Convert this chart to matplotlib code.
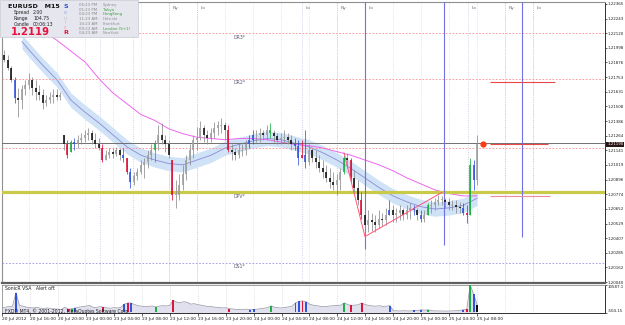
import matplotlib
matplotlib.use("Agg")
import matplotlib.pyplot as plt
import matplotlib.transforms as mtransforms
from matplotlib.patches import Rectangle
import numpy as np

# ---------------- data ----------------
highs = [1.2200, 1.2198, 1.2194, 1.2185, 1.2175, 1.2166, 1.2169, 1.2173, 1.2179, 1.2175,
         1.2173, 1.2169, 1.2165, 1.2160, 1.2163, 1.2165, 1.2165, 1.2163, 1.2127, 1.2123,
         1.2123, 1.2124, 1.2127, 1.2129, 1.2131, 1.2133, 1.2131, 1.2129, 1.2124, 1.2119,
         1.2114, 1.2116, 1.2116, 1.2117, 1.2116, 1.2116, 1.2108, 1.2099, 1.2096, 1.2099,
         1.2106, 1.2108, 1.2114, 1.2119, 1.2123, 1.2135, 1.2137, 1.2127, 1.2123, 1.2106,
         1.2089, 1.2094, 1.2102, 1.2110, 1.2119, 1.2127, 1.2134, 1.2139, 1.2135, 1.2131,
         1.2133, 1.2138, 1.2139, 1.2141, 1.2138, 1.2135, 1.2119, 1.2116, 1.2119, 1.2119,
         1.2123, 1.2127, 1.2131, 1.2131, 1.2133, 1.2131, 1.2135, 1.2137, 1.2131, 1.2129,
         1.2129, 1.2131, 1.2129, 1.2127, 1.2124, 1.2123, 1.2123, 1.2131, 1.2119, 1.2116,
         1.2114, 1.2110, 1.2106, 1.2102, 1.2099, 1.2096, 1.2094, 1.2099, 1.2110, 1.2112,
         1.2108, 1.2098, 1.2089, 1.2079, 1.2064, 1.2064, 1.2062, 1.2060, 1.2064, 1.2062,
         1.2066, 1.2073, 1.2068, 1.2066, 1.2068, 1.2066, 1.2068, 1.2070, 1.2068, 1.2066,
         1.2064, 1.2064, 1.2070, 1.2073, 1.2074, 1.2077, 1.2076, 1.2074, 1.2074, 1.2073,
         1.2073, 1.2071, 1.2070, 1.2068, 1.2108, 1.2106, 1.2127]
lows = [1.2191, 1.2188, 1.2181, 1.2171, 1.2154, 1.2142, 1.2149, 1.2160, 1.2165, 1.2160,
        1.2156, 1.2156, 1.2149, 1.2151, 1.2154, 1.2154, 1.2156, 1.2156, 1.2114, 1.2108,
        1.2113, 1.2114, 1.2116, 1.2119, 1.2121, 1.2123, 1.2119, 1.2116, 1.2114, 1.2104,
        1.2106, 1.2108, 1.2108, 1.2109, 1.2106, 1.2104, 1.2094, 1.2083, 1.2085, 1.2089,
        1.2094, 1.2091, 1.2099, 1.2106, 1.2104, 1.2114, 1.2119, 1.2113, 1.2108, 1.2073,
        1.2066, 1.2073, 1.2081, 1.2089, 1.2102, 1.2108, 1.2114, 1.2123, 1.2121, 1.2119,
        1.2121, 1.2124, 1.2127, 1.2129, 1.2123, 1.2113, 1.2106, 1.2106, 1.2108, 1.2109,
        1.2110, 1.2116, 1.2119, 1.2121, 1.2121, 1.2123, 1.2123, 1.2124, 1.2121, 1.2119,
        1.2119, 1.2120, 1.2119, 1.2114, 1.2114, 1.2102, 1.2108, 1.2099, 1.2102, 1.2104,
        1.2099, 1.2096, 1.2091, 1.2088, 1.2083, 1.2081, 1.2077, 1.2081, 1.2094, 1.2099,
        1.2088, 1.2079, 1.2068, 1.2057, 1.2042, 1.2046, 1.2047, 1.2046, 1.2049, 1.2051,
        1.2052, 1.2060, 1.2054, 1.2054, 1.2056, 1.2056, 1.2057, 1.2057, 1.2060, 1.2056,
        1.2054, 1.2054, 1.2060, 1.2062, 1.2064, 1.2068, 1.2068, 1.2066, 1.2064, 1.2064,
        1.2062, 1.2062, 1.2060, 1.2053, 1.2060, 1.2081, 1.2085]
closes = [1.2194, 1.2190, 1.2183, 1.2173, 1.2158, 1.2156, 1.2165, 1.2169, 1.2173, 1.2166,
          1.2163, 1.2160, 1.2154, 1.2156, 1.2159, 1.2160, 1.2159, 1.2160, 1.2119, 1.2110,
          1.2121, 1.2119, 1.2123, 1.2124, 1.2127, 1.2129, 1.2123, 1.2119, 1.2116, 1.2106,
          1.2110, 1.2113, 1.2111, 1.2114, 1.2110, 1.2108, 1.2096, 1.2088, 1.2093, 1.2096,
          1.2102, 1.2104, 1.2110, 1.2114, 1.2119, 1.2127, 1.2123, 1.2119, 1.2110, 1.2077,
          1.2077, 1.2085, 1.2094, 1.2106, 1.2114, 1.2123, 1.2124, 1.2133, 1.2127, 1.2124,
          1.2129, 1.2133, 1.2135, 1.2135, 1.2131, 1.2114, 1.2113, 1.2110, 1.2114, 1.2114,
          1.2119, 1.2123, 1.2127, 1.2127, 1.2129, 1.2127, 1.2131, 1.2129, 1.2126, 1.2123,
          1.2124, 1.2125, 1.2123, 1.2119, 1.2118, 1.2108, 1.2110, 1.2104, 1.2114, 1.2108,
          1.2104, 1.2099, 1.2096, 1.2091, 1.2088, 1.2085, 1.2089, 1.2096, 1.2108, 1.2106,
          1.2091, 1.2083, 1.2073, 1.2060, 1.2052, 1.2056, 1.2054, 1.2052, 1.2057, 1.2056,
          1.2060, 1.2064, 1.2060, 1.2062, 1.2064, 1.2060, 1.2064, 1.2066, 1.2064, 1.2060,
          1.2057, 1.2060, 1.2068, 1.2068, 1.2071, 1.2073, 1.2073, 1.2071, 1.2068, 1.2068,
          1.2067, 1.2066, 1.2062, 1.2060, 1.2102, 1.2089, 1.2119]
first_open = 1.2198

volumes = [1500, 1800, 2000, 2200, 7600, 2500, 2200, 1800, 1600, 1500,
           1700, 1400, 1300, 1500, 1200, 1100, 1000, 900, 1800, 1000,
           1200, 1500, 1800, 2000, 2200, 2500, 1800, 1700, 2000, 1800,
           1500, 1400, 1600, 1500, 1700, 3000, 3500, 3400, 2800, 2400,
           2200, 2000, 2100, 2300, 1900, 2200, 2400, 2300, 2500, 4500,
           3800, 3500, 4000, 3700, 3000, 3200, 2800, 2600, 2300, 2100,
           2000, 1800, 1700, 1500, 1600, 1200, 1100, 900, 800, 900,
           1000, 800, 900, 1000, 1200, 1400, 1600, 2300, 1800, 1600,
           1500, 1700, 1900, 2200, 3500, 4100, 4300, 4000, 3000, 2600,
           2400, 2200, 2000, 2100, 2300, 2400, 2500, 2600, 3500, 2800,
           2500, 2600, 2800, 3500, 2800, 2500, 2300, 2200, 2400, 2100,
           2200, 2400, 400, 350, 300, 400, 350, 300, 500, 450,
           800, 600, 800, 400, 350, 300, 300, 250, 300, 350,
           400, 500, 800, 1000, 10500, 6900, 2800]

signal_bars = [4, 19, 20, 21, 29, 35, 36, 37, 44, 49, 65, 71, 72, 77, 84, 85, 86, 87,
               98, 100, 103, 111, 118, 120, 122, 132, 133, 134, 135]
signal_kinds = ['b', 'r', 'g', 'b', 'r', 'b', 'r', 'b', 'g', 'r', 'r', 'b', 'b', 'g', 'b', 'b', 'r', 'b',
                'g', 'r', 'r', 'b', 'b', 'b', 'g', 'b', 'r', 'g', 'b']

pink_ma_bars = [12, 16, 20, 24, 28, 32, 36, 40, 44, 48, 52, 56, 60, 64, 68, 72, 76, 80,
                84, 88, 92, 96, 100, 104, 108, 112, 116, 120, 124, 128, 132, 136]
pink_ma = [1.2214, 1.2206, 1.2197, 1.2188, 1.2174, 1.2162, 1.2153, 1.2144, 1.2139, 1.2132,
           1.2128, 1.2125, 1.2124, 1.2123, 1.2124, 1.2124, 1.2123, 1.2121, 1.2119, 1.2118,
           1.2116, 1.2113, 1.2110, 1.2106, 1.2102, 1.2097, 1.2091, 1.2086, 1.2081, 1.2078,
           1.2076, 1.2076]
blue_ma_bars = [6, 8, 12, 16, 20, 24, 28, 32, 36, 40, 44, 48, 52, 56, 60, 64, 68, 72, 76,
                80, 84, 88, 92, 96, 100, 104, 108, 112, 116, 120, 124, 128, 132, 136]
blue_ma = [1.2205, 1.2198, 1.2185, 1.2173, 1.2156, 1.2146, 1.2137, 1.2127, 1.2117, 1.2110,
           1.2106, 1.2103, 1.2102, 1.2106, 1.2110, 1.2116, 1.2119, 1.2122, 1.2124, 1.2123,
           1.2120, 1.2117, 1.2112, 1.2106, 1.2099, 1.2091, 1.2083, 1.2076, 1.2071, 1.2067,
           1.2065, 1.2066, 1.2068, 1.2074]

zigzag_bars = [98, 104, 126]
zigzag_prices = [1.2112, 1.2042, 1.2079]

pivot_names = ['DR3*', 'DR2*', 'DPV*', 'DS1*']
pivot_prices = [1.2212, 1.2174, 1.2079, 1.2020]

session_bars = [28.3, 37.7, 48, 56, 86, 96, 104, 133.5, 144, 152]
session_labels = ['', '', 'Ny', 'Lo', 'Lo', 'Ny', 'Lo', 'Lo', 'Ny', 'Lo']

vline_bars = [104, 126.6, 148.9]
vline_bottoms = [1.2032, 1.2035, 1.2042]

target_starts = [139.7, 139.7, 139.7]
target_ends = [158.3, 156.3, 156.9]
target_prices = [1.2171, 1.2119, 1.2076]

bid_price = 1.2120
ask_dotted = 1.2116
dot_bar, dot_price = 137.7, 1.2119

price_tick_labels = ['1.22365', '1.22243', '1.22120', '1.21998', '1.21876', '1.21753', '1.21631',
                     '1.21508', '1.21386', '1.21264', '1.21141', '1.21019', '1.20896', '1.20774',
                     '1.20652', '1.20529', '1.20407', '1.20285', '1.20162', '1.20040']
time_tick_bars = [0, 8, 16, 24, 32, 40, 48, 56, 64, 72, 80, 88, 96, 104, 112, 120, 128, 136]
time_tick_labels = ['20 Jul 2012', '20 Jul 16:00', '20 Jul 20:00', '23 Jul 00:00', '23 Jul 04:00',
                    '23 Jul 08:00', '23 Jul 12:00', '23 Jul 16:00', '23 Jul 20:00', '24 Jul 00:00',
                    '24 Jul 04:00', '24 Jul 08:00', '24 Jul 12:00', '24 Jul 16:00', '24 Jul 20:00',
                    '25 Jul 00:00', '25 Jul 04:00', '25 Jul 08:00']
grid_bars = [8, 16, 24, 32, 40, 48, 56, 64, 72, 80, 88, 96, 104, 112, 120, 128, 136, 144, 152]

vol_top_label, vol_bottom_label = 10587.1, -504.15

session_times = ['06:23 PM', '05:23 PM', '04:23 PM', '11:23 AM', '10:23 AM', '09:23 AM', '04:23 AM']
session_cities = ['Sydney', 'Tokyo', 'HongKong', 'Helsinki', 'Frankfurt', 'London (S+1)', 'NewYork']
session_open = [False, True, True, False, False, True, False]

# ---------------- figure ----------------
W, H = 625, 325
fig = plt.figure(figsize=(W / 100, H / 100), dpi=100)
fig.patch.set_facecolor('white')


def rect(x0, y0, x1, y1):
    return [x0 / W, 1 - y1 / H, (x1 - x0) / W, (y1 - y0) / H]


ax = fig.add_axes(rect(2, 2, 605, 283))
axv = fig.add_axes(rect(2, 285, 605, 313))
XL = (0.29, 172.57)
for a in (ax, axv):
    a.set_xlim(*XL)
    a.set_facecolor('white')
ax.set_ylim(1.20032, 1.22381)
axv.set_ylim(vol_bottom_label, vol_top_label)

SIG = {'r': '#dc143c', 'b': '#3355dd', 'g': '#1fae45'}
sigmap = dict(zip(signal_bars, signal_kinds))
n = len(highs)
xs = np.arange(n)
opens = [first_open] + closes[:-1]

wick_c, body_c, blo, bhi = [], [], [], []
for i in range(n):
    o, c, h, l = opens[i], closes[i], highs[i], lows[i]
    lo_b = max(min(o, c), l)
    hi_b = min(max(o, c), h)
    if hi_b - lo_b < 0.00006:
        mid = (hi_b + lo_b) / 2
        lo_b, hi_b = mid - 0.00003, mid + 0.00003
    blo.append(lo_b)
    bhi.append(hi_b)
    if i in sigmap:
        wick_c.append(SIG[sigmap[i]])
        body_c.append(SIG[sigmap[i]])
    else:
        wick_c.append('#8c8c8c')
        body_c.append('#151515' if c < o else '#a0a0a0')

# grid & session lines
for b in grid_bars:
    ax.axvline(b, color='#cccccc', lw=0.5, ls=(0, (1, 2)), zorder=0.5)
    axv.axvline(b, color='#c8c8c8', lw=0.5, ls=(0, (1, 2)), zorder=0.5)
for b, lab in zip(session_bars, session_labels):
    ax.axvline(b, color='#b8b8dc', lw=0.55, ls=(0, (1, 2)), zorder=0.6)
    if lab:
        ax.text(b + 1.0, 1.22330, lab, fontsize=3.2, color='#707070', va='center', ha='left', zorder=7)

# band & moving averages
bm = np.array(blue_ma)
ax.fill_between(blue_ma_bars, bm - 0.0006, bm + 0.0006, color='#cfe2f6', lw=0, zorder=1)
ax.plot(blue_ma_bars, blue_ma, color='#8a8ad8', lw=0.6, zorder=2)
ax.plot(pink_ma_bars, pink_ma, color='#ee66ee', lw=0.7, zorder=2)

# horizontal lines
pivot_colors = ['#ff8c8c', '#ff8c8c', '#c9c94a', '#9f8fe6']
for name, p, col in zip(pivot_names, pivot_prices, pivot_colors):
    if name == 'DPV*':
        ax.axhline(p, color=col, lw=2.3, zorder=3)
    else:
        ax.axhline(p, color=col, lw=0.6, ls=(0, (2, 2)), zorder=3)
    ax.text(66.3, p - 0.00012, name, fontsize=3.3, color='#5a5a7a', va='top', ha='left', zorder=7)
ax.axhline(bid_price, color='#707070', lw=0.7, zorder=3)
ax.axhline(ask_dotted, color='#ff8c8c', lw=0.6, ls=(0, (2, 2)), zorder=3)

# vertical blue lines
for b, bot in zip(vline_bars, vline_bottoms):
    ax.vlines(b, bot, 1.22381, color='#7070e0', lw=0.8, zorder=3)

# target segments
tcols = ['#e84848', '#e84848', '#f08aa0']
for s, e, p, col in zip(target_starts, target_ends, target_prices, tcols):
    ax.hlines(p, s, e, color=col, lw=0.8, zorder=3)

# candles
ax.vlines(xs, lows, highs, colors=wick_c, lw=0.55, zorder=4)
ax.vlines(xs, blo, bhi, colors=body_c, lw=1.2, zorder=5)

# zigzag
ax.plot(zigzag_bars, zigzag_prices, color='#ff5577', lw=0.7, zorder=6)

# red dot
ax.plot([dot_bar], [dot_price], 'o', color='#ff3a10', ms=3.5, mec='#ff3a10', zorder=7)

# price axis
ax.yaxis.tick_right()
pt = [float(s) for s in price_tick_labels]
ax.set_yticks(pt)
ax.set_yticklabels(price_tick_labels)
ax.tick_params(axis='y', labelsize=2.9, length=1.5, width=0.5, pad=0.6, colors='#202020')
ax.tick_params(axis='x', bottom=False, labelbottom=False)
trans = mtransforms.blended_transform_factory(ax.transAxes, ax.transData)
ax.text(1.0035, closes[-1], '1.21190', transform=trans, fontsize=2.9, color='white',
        va='center', ha='left', zorder=10,
        bbox=dict(boxstyle='square,pad=0.2', fc='#2b1414', ec='none'), clip_on=False)

for side in ('left', 'top'):
    ax.spines[side].set_color('#909090')
    ax.spines[side].set_linewidth(0.8)
ax.spines['right'].set_color('#303030')
ax.spines['right'].set_linewidth(0.7)
ax.spines['bottom'].set_color('#606060')
ax.spines['bottom'].set_linewidth(1.6)

# volume window
vx = np.arange(len(volumes))
axv.fill_between(vx, volumes, vol_bottom_label, color='#e0e0ee', lw=0, zorder=1)
axv.plot(vx, volumes, color='#9c9cac', lw=0.55, zorder=2)
vcol = []
vsel = []
for i in range(len(volumes)):
    if i in sigmap:
        vsel.append(i)
        vcol.append(SIG[sigmap[i]])
vsel.append(len(volumes) - 1)
vcol.append('#111111')
axv.bar(vsel, [volumes[i] for i in vsel], width=0.55, color=vcol, zorder=3)
axv.yaxis.tick_right()
axv.set_yticks([vol_top_label, vol_bottom_label])
vlabels = axv.set_yticklabels(['10587.1', '-504.15'])
vlabels[0].set_va('top')
vlabels[1].set_va('bottom')
axv.tick_params(axis='y', labelsize=2.9, length=1.5, width=0.5, pad=0.6, colors='#202020')
axv.set_xticks(time_tick_bars)
axv.set_xticklabels(time_tick_labels, ha='left')
axv.tick_params(axis='x', labelsize=3.2, length=2, width=0.5, pad=1, colors='#202020')
for side in ('left', 'top'):
    axv.spines[side].set_color('#909090')
    axv.spines[side].set_linewidth(0.6)
axv.spines['right'].set_color('#303030')
axv.spines['right'].set_linewidth(0.7)
axv.spines['bottom'].set_color('#303030')
axv.spines['bottom'].set_linewidth(0.7)
axv.text(0.005, 0.86, 'SonicR VSA   Alert off.', transform=axv.transAxes, fontsize=3.3,
         color='#202020', va='center', ha='left', zorder=6)
axv.text(0.005, 0.08, 'FXDD MT4, \u00a9 2001-2012, MetaQuotes Software Corp.', transform=axv.transAxes,
         fontsize=3.3, color='#202020', va='center', ha='left', zorder=6)


# info box
def T(x, y, s, **kw):
    kw.setdefault('va', 'center')
    kw.setdefault('ha', 'left')
    fig.text(x / W, 1 - y / H, s, zorder=12, **kw)


fig.patches.append(Rectangle((0, 1 - 37 / H), 138 / W, 37 / H, transform=fig.transFigure,
                             fc='#e6e6ee', ec='#c8c8d0', lw=0.5, zorder=11))
T(8, 6, 'EURUSD   M15', fontsize=4.6, fontweight='bold', color='#111111')
T(14, 12.5, 'Spread', fontsize=3.3, color='#222222')
T(33, 12.5, '2.00', fontsize=3.3, color='#222222')
T(14, 18.5, 'Range', fontsize=3.3, color='#222222')
T(33, 18.5, '104.75', fontsize=3.3, color='#222222')
T(14, 24.5, 'Candle', fontsize=3.3, color='#222222')
T(33, 24.5, '00:06:13', fontsize=3.3, color='#222222')
T(11, 32, '1.2119', fontsize=7.2, fontweight='bold', color='#e8103c')
sonic = [('S', '#3050d0', 6, 4.6, 'bold'), ('o', '#98a8e0', 12.5, 3.6, 'normal'),
         ('n', '#c0c0d8', 18.5, 3.6, 'normal'), ('i', '#d0b8c8', 23, 3.6, 'normal'),
         ('c', '#e898a8', 27.5, 3.6, 'normal'), ('R', '#e8103c', 33, 4.6, 'bold')]
for ch, col, yy, fs, fw in sonic:
    T(65.5, yy, ch, fontsize=fs, color=col, fontweight=fw, ha='center')
for k, (tm, city, op) in enumerate(zip(session_times, session_cities, session_open)):
    yy = 5 + k * 4.7
    T(79, yy, tm, fontsize=2.8, color='#888888')
    T(103, yy, city, fontsize=2.8, color='#3ea03e' if op else '#909090')

fig.savefig('out.png', dpi=100, facecolor='white')
